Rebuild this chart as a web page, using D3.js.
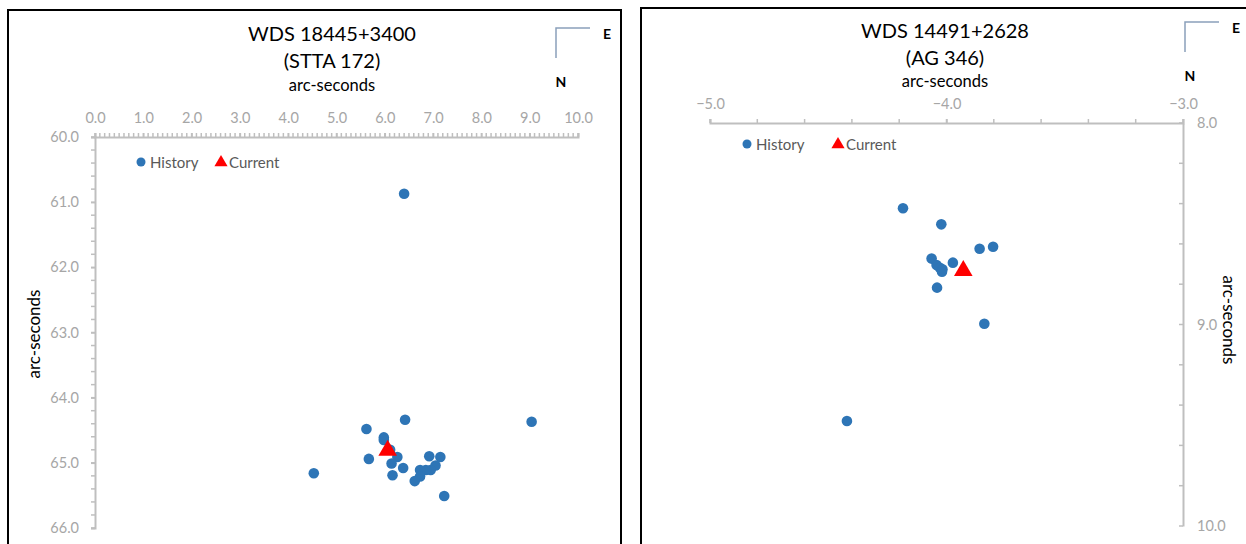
<!DOCTYPE html>
<html>
<head>
<meta charset="utf-8">
<script src="https://cdn.jsdelivr.net/npm/d3@7"></script>
<style>
  html, body { margin: 0; padding: 0; background: #fff; }
  svg { display: block; font-family: Lato, "Open Sans", sans-serif; }
</style>
</head>
<body>
<svg id="chart" width="1246" height="544"></svg>
<script>
// ---------- Data: left chart (WDS 18445+3400, STTA 172) ----------
const leftTitle = ["WDS 18445+3400", "(STTA 172)"];
const leftHistX = [6.40, 6.42, 9.04, 5.62, 5.98, 5.98, 6.11, 6.26, 5.67, 6.14, 6.38, 6.16, 6.92, 7.15, 7.05, 6.95, 6.85, 6.73, 6.73, 6.62, 7.23, 4.53];
const leftHistY = [60.87, 64.34, 64.37, 64.48, 64.61, 64.65, 64.80, 64.91, 64.94, 65.01, 65.08, 65.19, 64.90, 64.91, 65.04, 65.11, 65.11, 65.11, 65.21, 65.28, 65.51, 65.16];
const leftCurX = [6.06];
const leftCurY = [64.81];
const leftXTicks = [0, 1, 2, 3, 4, 5, 6, 7, 8, 9, 10];
const leftYTicks = [60, 61, 62, 63, 64, 65, 66];

// ---------- Data: right chart (WDS 14491+2628, AG 346) ----------
const rightTitle = ["WDS 14491+2628", "(AG 346)"];
const rightHistX = [-4.184, -4.022, -4.063, -4.042, -4.028, -4.017, -4.019, -3.973, -3.860, -3.803, -4.040, -3.840, -4.421];
const rightHistY = [8.423, 8.503, 8.673, 8.705, 8.718, 8.726, 8.738, 8.693, 8.624, 8.614, 8.817, 8.996, 9.479];
const rightCurX = [-3.929];
const rightCurY = [8.733];
const rightXTicks = [-5, -4, -3];
const rightYTicks = [8, 9, 10];

const legendLabels = ["History", "Current"];

const BLUE = "#2e75b6", RED = "#ff0000", AXIS = "#bfbfbf", TICKTXT = "#a6a6a6", COMPASS = "#8aa0bb";

const svg = d3.select("#chart");

function drawPanel(o) {
  const g = svg.append("g");
  // frame
  g.append("rect").attr("x", o.frame[0]).attr("y", o.frame[1])
    .attr("width", o.frame[2]).attr("height", o.frame[3])
    .attr("fill", "#fff").attr("stroke", "#000").attr("stroke-width", 2);

  const x = d3.scaleLinear().domain(o.xDomain).range(o.xRange);
  const y = d3.scaleLinear().domain(o.yDomain).range(o.yRange);

  // titles
  g.append("text").attr("x", o.titleX).attr("y", o.titleY[0]).attr("text-anchor", "middle")
    .attr("dominant-baseline", "central").attr("font-size", 20).attr("fill", "#000").text(o.title[0]);
  g.append("text").attr("x", o.titleX).attr("y", o.titleY[1]).attr("text-anchor", "middle")
    .attr("dominant-baseline", "central").attr("font-size", 20).attr("fill", "#000").text(o.title[1]);
  g.append("text").attr("x", o.titleX).attr("y", o.titleY[2]).attr("text-anchor", "middle")
    .attr("dominant-baseline", "central").attr("font-size", 16.5).attr("fill", "#000").text("arc-seconds");

  // minor ticks x (top, pointing up)
  const xMinor = d3.range(o.xDomain[0], o.xDomain[1] + o.xMinorStep / 2, o.xMinorStep);
  g.append("g").selectAll("line").data(xMinor).join("line")
    .attr("x1", d => x(d)).attr("x2", d => x(d))
    .attr("y1", y(o.yDomain[0])).attr("y2", y(o.yDomain[0]) - 4)
    .attr("stroke", AXIS).attr("stroke-width", 1.5);

  // x axis (top)
  const xAxis = d3.axisTop(x).tickValues(o.xTicks).tickFormat(d3.format(".1f"))
    .tickSize(4).tickPadding(o.xPad);
  const xg = g.append("g").attr("transform", `translate(0,${y(o.yDomain[0])})`).call(xAxis);
  xg.select(".domain").attr("stroke", AXIS).attr("stroke-width", 2);
  xg.selectAll(".tick line").attr("stroke", AXIS).attr("stroke-width", 1.5);
  xg.selectAll(".tick text").attr("fill", TICKTXT).attr("font-size", 14.5).attr("font-family", "Lato, sans-serif");

  // minor ticks y
  const yMinor = d3.range(o.yDomain[0], o.yDomain[1] + o.yMinorStep / 2, o.yMinorStep);
  const yAxisX = o.yRight ? x(o.xDomain[1]) : x(o.xDomain[0]);
  g.append("g").selectAll("line").data(yMinor).join("line")
    .attr("x1", yAxisX).attr("x2", yAxisX - 4)
    .attr("y1", d => y(d)).attr("y2", d => y(d))
    .attr("stroke", AXIS).attr("stroke-width", 1.5);

  // y axis
  const yAxis = (o.yRight ? d3.axisRight(y) : d3.axisLeft(y)).tickValues(o.yTicks)
    .tickFormat(d3.format(".1f")).tickSize(o.yRight ? 0 : 4).tickPadding(o.yPad);
  const yg = g.append("g").attr("transform", `translate(${yAxisX},0)`).call(yAxis);
  yg.select(".domain").attr("stroke", AXIS).attr("stroke-width", 2);
  yg.selectAll(".tick line").attr("stroke", AXIS).attr("stroke-width", 1.5);
  yg.selectAll(".tick text").attr("fill", TICKTXT).attr("font-size", 14.5).attr("font-family", "Lato, sans-serif");

  // y axis title
  g.append("text")
    .attr("transform", `translate(${o.yTitle[0]},${o.yTitle[1]}) rotate(${o.yRight ? 90 : -90})`)
    .attr("text-anchor", "middle").attr("dominant-baseline", "central")
    .attr("font-size", 17).attr("fill", "#000").text("arc-seconds");

  // legend
  const lg = g.append("g").attr("font-size", 15).attr("fill", "#595959");
  lg.append("circle").attr("cx", o.legend[0]).attr("cy", o.legend[1]).attr("r", 4.5).attr("fill", BLUE);
  lg.append("text").attr("x", o.legend[0] + 9).attr("y", o.legend[1]).attr("dominant-baseline", "central").text(legendLabels[0]);
  lg.append("path").attr("d", d3.symbol(d3.symbolTriangle, 75)())
    .attr("transform", `translate(${o.legend[2]},${o.legend[1] + 0.5})`).attr("fill", RED);
  lg.append("text").attr("x", o.legend[2] + 8).attr("y", o.legend[1]).attr("dominant-baseline", "central").text(legendLabels[1]);

  // history points
  const hist = o.hx.map((v, i) => [v, o.hy[i]]);
  g.append("g").selectAll("circle").data(hist).join("circle")
    .attr("cx", d => x(d[0])).attr("cy", d => y(d[1])).attr("r", 5.3).attr("fill", BLUE);
  // current
  const cur = o.cx.map((v, i) => [v, o.cy[i]]);
  g.append("g").selectAll("path").data(cur).join("path")
    .attr("d", d3.symbol(d3.symbolTriangle, 150)())
    .attr("transform", d => `translate(${x(d[0])},${y(d[1])})`).attr("fill", RED);

  // compass
  const c = o.compass;
  g.append("path").attr("d", `M${c[0] + 34},${c[1]} H${c[0]} V${c[1] + 30}`)
    .attr("fill", "none").attr("stroke", COMPASS).attr("stroke-width", 1.5);
  g.append("text").attr("x", c[0] + 51).attr("y", c[1] + 5).attr("text-anchor", "middle")
    .attr("dominant-baseline", "central").attr("font-size", 14).attr("font-weight", "bold").attr("fill", "#000").text("E");
  g.append("text").attr("x", c[0] + 5).attr("y", c[1] + 53).attr("text-anchor", "middle")
    .attr("dominant-baseline", "central").attr("font-size", 14).attr("font-weight", "bold").attr("fill", "#000").text("N");
}

drawPanel({
  frame: [8, 10, 613, 560],
  xDomain: [0, 10], xRange: [95, 578],
  yDomain: [60, 66], yRange: [137, 528],
  xTicks: leftXTicks, yTicks: leftYTicks,
  xMinorStep: 0.1, yMinorStep: 0.2,
  xPad: 10, yPad: 12, yRight: false,
  title: leftTitle, titleX: 332, titleY: [33, 60, 85],
  yTitle: [33, 334],
  legend: [141, 162, 221],
  hx: leftHistX, hy: leftHistY, cx: leftCurX, cy: leftCurY,
  compass: [556, 28]
});

drawPanel({
  frame: [641, 8, 640, 560],
  xDomain: [-5, -3], xRange: [710, 1183],
  yDomain: [8, 10], yRange: [123, 526],
  xTicks: rightXTicks, yTicks: rightYTicks,
  xMinorStep: 0.2, yMinorStep: 0.2,
  xPad: 10, yPad: 14, yRight: true,
  title: rightTitle, titleX: 945, titleY: [30, 57, 81],
  yTitle: [1229, 320],
  legend: [747, 144, 838],
  hx: rightHistX, hy: rightHistY, cx: rightCurX, cy: rightCurY,
  compass: [1185, 22]
});
</script>
</body>
</html>
